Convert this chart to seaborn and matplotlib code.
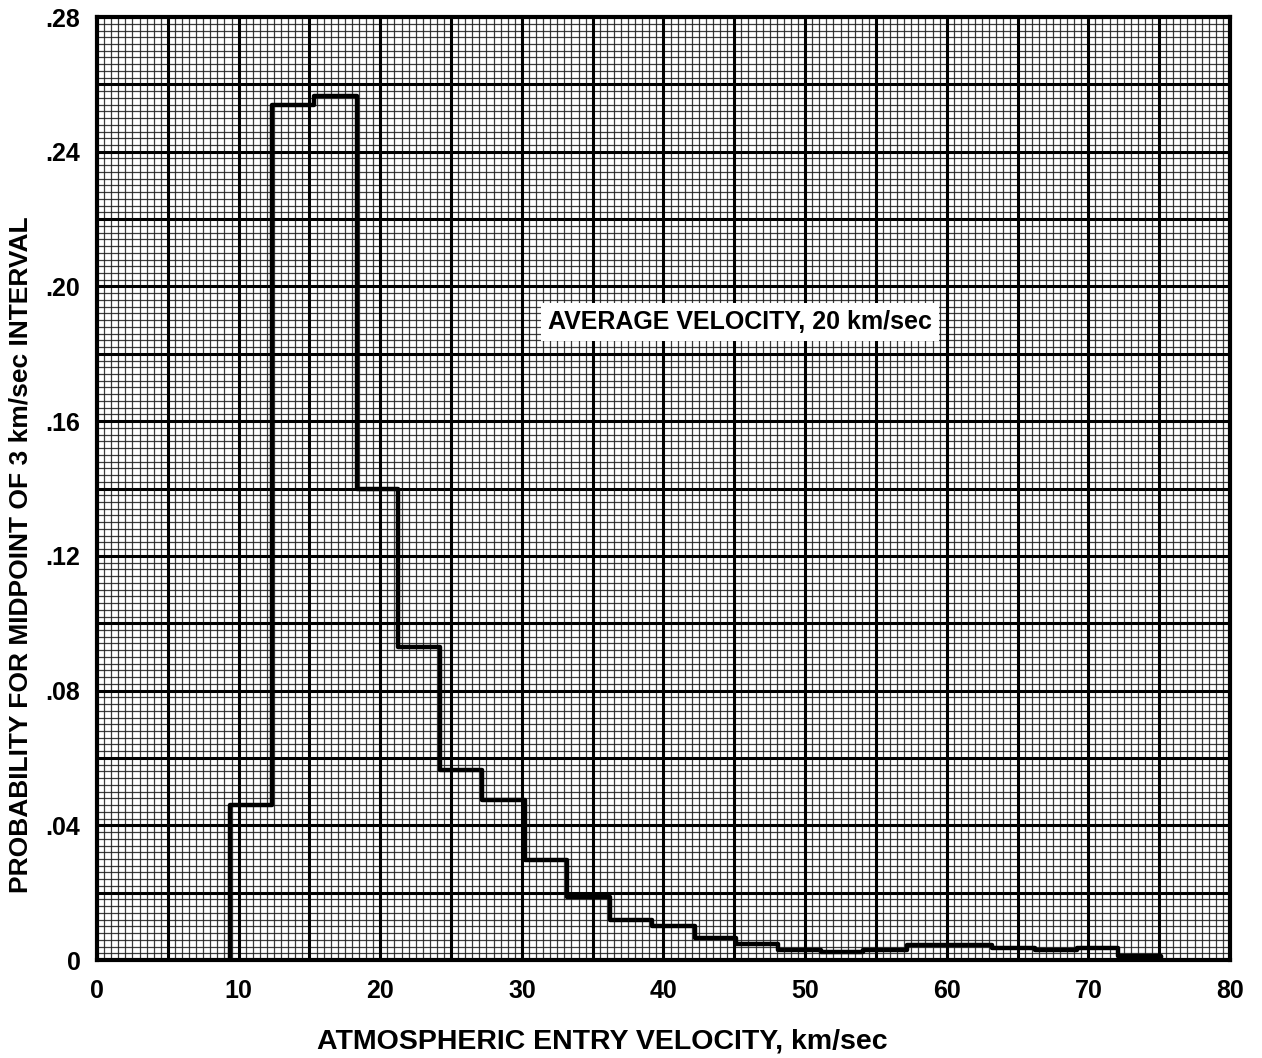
import numpy as np
import pandas as pd
import matplotlib
matplotlib.use("Agg")
import matplotlib.pyplot as plt
from matplotlib.ticker import MultipleLocator, FixedLocator
import seaborn as sns

# ---- data ----
bin_edges = [9.4, 12.35, 15.3, 18.35, 21.25, 24.2, 27.2, 30.2, 33.2, 36.2, 39.2,
             42.2, 45.1, 48.1, 51.1, 54.1, 57.2, 60.2, 63.2, 66.2, 69.2, 72.1, 75.1]
probabilities = [0.046, 0.254, 0.2565, 0.140, 0.093, 0.0565, 0.0475, 0.0297,
                 0.0188, 0.012, 0.0102, 0.0064, 0.0047, 0.003, 0.0025, 0.003,
                 0.0045, 0.0045, 0.0037, 0.003, 0.0035, 0.0013]
x_ticks = [0, 10, 20, 30, 40, 50, 60, 70, 80]
x_tick_labels = ["0", "10", "20", "30", "40", "50", "60", "70", "80"]
y_ticks = [0, 0.04, 0.08, 0.12, 0.16, 0.20, 0.24, 0.28]
y_tick_labels = ["0", ".04", ".08", ".12", ".16", ".20", ".24", ".28"]
x_label = "ATMOSPHERIC ENTRY VELOCITY, km/sec"
y_label = "PROBABILITY FOR MIDPOINT OF 3 km/sec INTERVAL"
note = "AVERAGE VELOCITY, 20 km/sec"

midpoints = [(a + b) / 2 for a, b in zip(bin_edges[:-1], bin_edges[1:])]
df = pd.DataFrame({"velocity": midpoints, "prob": probabilities})

sns.set_theme(style="white", rc={"text.color": "black", "axes.labelcolor": "black",
                                 "xtick.color": "black", "ytick.color": "black"})
plt.rcParams["font.family"] = ["Liberation Sans", "DejaVu Sans"]
plt.rcParams["font.weight"] = "bold"

fig = plt.figure(figsize=(12.62, 10.58), dpi=100)
ax = fig.add_axes([0.0769, 0.0926, 0.8977, 0.8913])

ax.set_xlim(0, 80)
ax.set_ylim(0, 0.28)

# graph-paper grid
ax.xaxis.set_minor_locator(MultipleLocator(0.5))
ax.yaxis.set_minor_locator(MultipleLocator(0.002))
ax.grid(which="minor", color="#1a1a1a", linewidth=0.9, alpha=0.85)
ax.set_axisbelow(True)
for xv in np.arange(5, 80, 5):
    ax.axvline(xv, color="black", linewidth=2.2, zorder=1)
for yv in np.arange(0.02, 0.28, 0.02):
    ax.axhline(yv, color="black", linewidth=2.2, zorder=1)

sns.histplot(data=df, x="velocity", weights="prob", bins=bin_edges,
             element="step", fill=False, color="black", linewidth=3.2,
             ax=ax, zorder=5)
# closing verticals of the outline at both ends
ax.vlines([bin_edges[0], bin_edges[-1]], 0, [probabilities[0], probabilities[-1]],
          color="black", linewidth=3.2, zorder=5)

ax.xaxis.set_major_locator(FixedLocator(x_ticks))
ax.yaxis.set_major_locator(FixedLocator(y_ticks))
ax.set_xticklabels(x_tick_labels, fontsize=18, fontweight="bold", color="black")
ax.set_yticklabels(y_tick_labels, fontsize=18, fontweight="bold", color="black")
ax.tick_params(axis="both", which="both", length=0, pad=14)
ax.tick_params(axis="y", pad=12)

ax.set_xlabel(x_label, fontsize=20.5, fontweight="bold", color="black")
ax.set_ylabel(y_label, fontsize=19, fontweight="bold", color="black")
ax.xaxis.set_label_coords(0.446, -0.073)
ax.yaxis.set_label_coords(-0.057, 0.43)

for s in ax.spines.values():
    s.set_visible(True)
    s.set_color("black")
    s.set_linewidth(3)

ax.text(45.4, 0.1894, note, fontsize=18, fontweight="bold", ha="center",
        va="center", zorder=6, color="black",
        bbox=dict(facecolor="white", edgecolor="none", pad=5))

fig.savefig("out.png", dpi=100, facecolor="white")
